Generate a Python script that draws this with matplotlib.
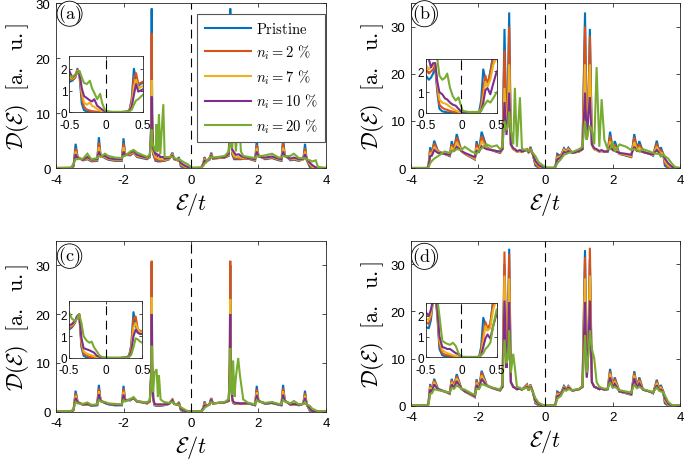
import numpy as np
import matplotlib
matplotlib.use("Agg")
import matplotlib.pyplot as plt

plt.rcParams['font.family'] = ['Liberation Sans', 'DejaVu Sans']
plt.rcParams['mathtext.fontset'] = 'cm'
plt.rcParams['axes.unicode_minus'] = False

COLORS = ['#0072BD', '#D95319', '#EDB120', '#7E2F8E', '#77AC30']
LABELS = [r'$\mathrm{Pristine}$', r'$n_i = 2\ \%$', r'$n_i = 7\ \%$',
          r'$n_i = 10\ \%$', r'$n_i = 20\ \%$']

# ---------------- panel (a) ----------------
E_A = [-4.0, -3.55, -3.48, -3.42, -3.36, -3.2, -3.07, -2.95, -2.78, -2.73,
       -2.68, -2.55, -2.45, -2.25, -2.05, -2.0, -1.95, -1.8, -1.7, -1.6,
       -1.45, -1.3, -1.22, -1.18, -1.165, -1.15, -1.12, -1.05, -1.02, -0.99,
       -0.95, -0.91, -0.82, -0.78, -0.65, -0.55, -0.5, -0.4, -0.36, -0.3,
       -0.2, -0.1, -0.03, 0.0, 0.3, 0.37, 0.40, 0.45, 0.55, 0.6,
       0.65, 0.8, 1.0, 1.12, 1.15, 1.165, 1.18, 1.22, 1.28, 1.33,
       1.42, 1.48, 1.55, 1.7, 1.9, 1.95, 2.0, 2.2, 2.4, 2.6,
       2.68, 2.73, 2.78, 2.95, 3.05, 3.2, 3.33, 3.38, 3.43, 3.52,
       3.6, 3.7, 3.76, 4.0]
A_PRISTINE = [0, 0, 0.3, 4.4, 2.0, 1.4, 1.6, 1.2, 1.3, 5.6,
              2.3, 1.8, 1.5, 1.3, 1.3, 5.4, 2.4, 2.3, 2.8, 2.0,
              1.8, 1.6, 2.0, 8.0, 29.0, 10.0, 2.5, 1.3, 1.3, 1.2,
              1.2, 1.2, 1.3, 1.3, 1.6, 2.8, 1.6, 1.4, 2.0, 0.3,
              0.05, 0, 0, 0, 0, 0.8, 2.0, 1.2, 1.5, 2.8,
              1.7, 1.8, 1.9, 2.2, 10.0, 29.0, 8.0, 2.5, 1.6, 1.6,
              1.6, 1.6, 1.7, 1.7, 1.3, 5.0, 2.2, 1.6, 1.8, 1.4,
              1.3, 5.4, 2.3, 1.4, 1.5, 1.3, 1.6, 4.4, 1.5, 0.2,
              0, 0, 0, 0]
A_N2 = [0, 0, 0.4, 3.6, 2.0, 1.4, 1.7, 1.3, 1.4, 4.6,
        2.3, 1.9, 1.6, 1.4, 1.4, 4.5, 2.4, 2.4, 2.9, 2.1,
        1.9, 1.7, 2.1, 7.0, 24.5, 9.0, 2.8, 1.5, 1.6, 1.4,
        1.4, 1.3, 1.4, 1.4, 1.6, 2.6, 1.6, 1.4, 1.8, 0.5,
        0.15, 0.05, 0, 0, 0, 0.9, 1.8, 1.2, 1.6, 2.6,
        1.7, 1.8, 1.9, 2.3, 9.0, 24.5, 7.0, 2.8, 1.8, 1.8,
        1.7, 1.7, 1.7, 1.7, 1.4, 4.2, 2.2, 1.7, 1.9, 1.5,
        1.4, 4.5, 2.3, 1.5, 1.6, 1.4, 1.6, 3.6, 1.5, 0.5,
        0.05, 0, 0, 0]
A_N7 = [0, 0, 0.5, 3.0, 1.9, 1.5, 1.8, 1.4, 1.5, 3.8,
        2.3, 2.0, 1.7, 1.5, 1.5, 3.8, 2.4, 2.6, 3.0, 2.2,
        2.0, 1.8, 2.2, 6.0, 16.0, 8.0, 3.0, 2.0, 2.0, 1.8,
        1.8, 1.6, 1.6, 1.5, 1.7, 2.4, 1.7, 1.5, 1.6, 0.7,
        0.3, 0.1, 0.02, 0, 0, 0.8, 1.5, 1.2, 1.7, 2.4,
        1.8, 1.8, 2.0, 2.4, 8.0, 16.0, 6.0, 3.0, 2.2, 2.0,
        2.0, 1.9, 1.8, 1.8, 1.5, 3.6, 2.2, 1.8, 2.0, 1.6,
        1.5, 3.7, 2.3, 1.6, 1.7, 1.5, 1.6, 3.0, 1.6, 0.8,
        0.2, 0.02, 0, 0]
A_N10 = [0, 0, 0.6, 2.5, 1.8, 1.5, 2.0, 1.5, 1.6, 3.0,
         2.2, 2.2, 1.8, 1.6, 1.6, 3.0, 2.3, 2.8, 3.1, 2.4,
         2.1, 1.9, 2.3, 5.5, 13.0, 7.5, 3.5, 2.5, 2.6, 2.2,
         2.4, 2.0, 2.0, 1.7, 1.8, 2.2, 1.7, 1.6, 1.5, 0.9,
         0.5, 0.2, 0.05, 0, 0.03, 0.7, 1.3, 1.1, 1.8, 2.2,
         1.8, 1.9, 2.0, 2.6, 7.0, 13.0, 5.5, 3.4, 2.8, 2.4,
         2.5, 2.2, 2.0, 1.8, 1.6, 3.0, 2.1, 1.9, 2.1, 1.7,
         1.6, 3.0, 2.2, 1.7, 1.9, 1.6, 1.7, 2.5, 1.6, 1.0,
         0.5, 0.1, 0.02, 0]
A_N20 = [0, 0.1, 0.8, 1.6, 1.6, 1.7, 2.6, 1.6, 1.8, 2.2,
         2.0, 2.6, 2.2, 1.9, 1.8, 2.2, 2.2, 3.0, 3.3, 2.8,
         2.4, 2.0, 2.4, 5.0, 7.0, 5.0, 4.0, 3.0, 8.0, 3.0,
         9.8, 2.5, 11.6, 2.0, 2.0, 2.0, 1.8, 1.6, 1.5, 1.4,
         1.0, 0.7, 0.3, 0.05, 0.1, 0.4, 0.8, 1.0, 1.9, 2.0,
         1.9, 2.0, 2.2, 3.0, 5.0, 7.0, 5.0, 3.6, 9.0, 3.0,
         10.0, 3.0, 2.2, 2.0, 1.8, 2.2, 2.1, 2.3, 2.6, 1.9,
         1.9, 2.2, 2.1, 2.2, 2.6, 1.8, 1.8, 1.8, 1.6, 1.4,
         1.2, 1.4, 0.2, 0]

# ---------------- panel (b) ----------------
E_B = [-4.0, -3.52, -3.48, -3.43, -3.38, -3.31, -3.2, -3.0, -2.85, -2.79,
       -2.72, -2.64, -2.5, -2.4, -2.2, -2.1, -2.05, -1.98, -1.9, -1.75,
       -1.6, -1.45, -1.35, -1.28, -1.22, -1.16, -1.12, -1.08, -1.03, -0.96,
       -0.91, -0.85, -0.76, -0.7, -0.55, -0.5, -0.45, -0.38, -0.3, -0.2,
       -0.05, 0.0, 0.25, 0.3, 0.35, 0.45, 0.55, 0.62, 0.68, 0.8,
       1.0, 1.1, 1.175, 1.23, 1.28, 1.32, 1.38, 1.45, 1.52, 1.6,
       1.67, 1.75, 1.85, 1.92, 2.0, 2.06, 2.2, 2.4, 2.55, 2.64,
       2.72, 2.79, 2.9, 3.1, 3.2, 3.31, 3.38, 3.43, 3.5, 3.55,
       3.65, 3.75, 3.85, 4.0]
B_PRISTINE = [0, 0, 0.5, 4.4, 3.0, 5.8, 3.6, 3.0, 2.5, 5.7,
              4.0, 7.2, 3.6, 3.0, 2.2, 1.8, 5.7, 3.5, 7.7, 4.4,
              3.8, 3.4, 3.2, 4.0, 29.5, 8.0, 15.0, 33.0, 5.0, 4.0,
              3.8, 3.5, 3.6, 3.4, 4.0, 3.2, 4.5, 3.0, 0.5, 0.05,
              0, 0, 0, 0.5, 3.0, 2.5, 4.2, 3.5, 4.3, 3.2,
              3.5, 4.0, 33.0, 6.0, 15.0, 29.5, 5.0, 4.0, 3.8, 3.5,
              3.6, 3.4, 3.5, 7.7, 4.0, 5.7, 3.0, 2.6, 2.3, 7.2,
              4.0, 5.7, 3.4, 3.0, 2.6, 5.8, 3.5, 4.4, 3.0, 0.5,
              0, 0, 0, 0]
B_N2 = [0, 0, 0.4, 3.8, 3.0, 5.2, 3.5, 3.0, 2.6, 5.0,
        3.9, 6.5, 3.6, 3.0, 2.3, 1.9, 5.0, 3.5, 6.8, 4.3,
        3.8, 3.5, 3.3, 4.0, 25.0, 8.0, 14.0, 30.0, 5.0, 4.0,
        3.8, 3.5, 3.6, 3.4, 4.0, 3.3, 4.3, 3.0, 0.8, 0.15,
        0.02, 0, 0, 0.4, 2.6, 2.5, 4.0, 3.5, 4.1, 3.2,
        3.5, 4.0, 30.0, 6.0, 15.0, 28.0, 5.0, 4.0, 3.8, 3.5,
        3.6, 3.4, 3.5, 6.8, 4.0, 5.0, 3.0, 2.7, 2.4, 6.5,
        3.9, 5.0, 3.4, 3.0, 2.7, 5.2, 3.5, 3.8, 3.0, 1.0,
        0.2, 0, 0, 0]
B_N7 = [0, 0, 0.3, 3.2, 2.9, 4.5, 3.4, 3.0, 2.7, 4.3,
        3.8, 5.5, 3.6, 3.1, 2.4, 2.0, 4.3, 3.5, 5.7, 4.2,
        3.8, 3.6, 3.4, 4.0, 17.0, 8.0, 12.0, 22.0, 5.0, 4.0,
        3.8, 3.5, 3.6, 3.4, 3.9, 3.3, 4.0, 3.0, 1.2, 0.4,
        0.05, 0.02, 0, 0.3, 2.2, 2.4, 3.8, 3.4, 3.9, 3.2,
        3.5, 4.0, 22.0, 6.0, 14.0, 22.0, 5.0, 4.0, 3.8, 3.5,
        3.6, 3.5, 3.5, 5.7, 3.9, 4.3, 3.1, 2.8, 2.5, 5.5,
        3.8, 4.3, 3.4, 3.0, 2.8, 4.5, 3.4, 3.2, 3.0, 1.5,
        0.5, 0.1, 0, 0]
B_N10 = [0, 0, 0.3, 2.5, 2.6, 3.8, 3.2, 3.0, 2.8, 3.6,
         3.6, 4.5, 3.6, 3.2, 2.6, 2.3, 3.6, 3.4, 4.6, 4.0,
         3.8, 3.6, 3.5, 4.0, 14.0, 7.0, 10.0, 16.0, 5.0, 4.2,
         4.0, 3.6, 3.8, 3.5, 3.8, 3.4, 3.8, 3.0, 1.5, 0.6,
         0.1, 0.05, 0.02, 0.3, 1.8, 2.2, 3.4, 3.2, 3.6, 3.2,
         3.6, 4.0, 16.0, 6.0, 12.0, 15.0, 5.0, 4.2, 4.0, 3.6,
         3.8, 3.5, 3.5, 4.6, 3.8, 3.6, 3.2, 3.0, 2.8, 4.5,
         3.6, 3.6, 3.4, 3.0, 2.9, 3.8, 3.2, 2.5, 2.8, 2.0,
         1.0, 0.3, 0.02, 0]
B_N20 = [0, 0, 0.1, 1.0, 1.5, 2.0, 2.5, 3.5, 3.2, 3.5,
         3.6, 4.0, 3.8, 4.5, 3.5, 3.2, 3.0, 3.6, 4.2, 5.0,
         4.5, 4.8, 4.0, 4.5, 10.0, 8.0, 9.0, 12.0, 8.0, 5.0,
         17.0, 4.5, 15.0, 4.0, 3.8, 3.6, 3.8, 3.2, 2.5, 1.2,
         0.4, 0.1, 0.05, 0.3, 1.0, 1.8, 2.8, 3.0, 3.2, 3.4,
         4.0, 4.5, 10.0, 6.0, 8.0, 9.0, 8.0, 5.0, 21.4, 4.5,
         14.6, 6.0, 4.0, 4.0, 5.5, 3.5, 5.0, 4.5, 3.8, 4.0,
         3.8, 3.5, 4.0, 3.5, 3.2, 3.0, 3.0, 2.5, 2.8, 2.5,
         2.0, 1.0, 0.2, 0]

# ---------------- panel (c) ----------------
E_C = [-4.0, -3.55, -3.48, -3.42, -3.36, -3.2, -3.07, -2.95, -2.78, -2.73,
       -2.68, -2.55, -2.45, -2.25, -2.05, -2.0, -1.95, -1.8, -1.7, -1.6,
       -1.45, -1.3, -1.22, -1.18, -1.165, -1.15, -1.12, -1.08, -1.02, -0.98,
       -0.95, -0.9, -0.8, -0.65, -0.55, -0.5, -0.4, -0.36, -0.3, -0.2,
       -0.1, -0.03, 0.0, 0.3, 0.37, 0.40, 0.45, 0.55, 0.6, 0.65,
       0.8, 1.0, 1.12, 1.15, 1.165, 1.18, 1.22, 1.25, 1.29, 1.33,
       1.40, 1.45, 1.55, 1.7, 1.9, 1.95, 2.0, 2.2, 2.4, 2.6,
       2.68, 2.73, 2.78, 2.95, 3.05, 3.2, 3.33, 3.38, 3.43, 3.52,
       3.6, 3.7, 3.76, 4.0]
C_PRISTINE = [0, 0, 0.3, 4.3, 2.0, 1.4, 1.5, 1.2, 1.3, 5.5,
              2.3, 1.8, 1.5, 1.3, 1.3, 5.3, 2.4, 2.3, 2.8, 2.1,
              1.9, 1.7, 2.1, 8.0, 30.5, 10.0, 2.5, 1.3, 1.2, 1.2,
              1.2, 1.2, 1.3, 1.6, 2.6, 1.6, 1.4, 2.0, 0.3, 0.05,
              0, 0, 0, 0, 0.8, 2.1, 1.2, 1.5, 2.8, 1.7,
              1.8, 1.9, 2.2, 10.0, 30.0, 8.0, 2.5, 1.8, 1.6, 1.6,
              1.6, 1.6, 1.7, 1.7, 1.3, 5.3, 2.2, 1.6, 1.8, 1.4,
              1.3, 5.5, 2.3, 1.4, 1.5, 1.3, 1.6, 4.3, 1.5, 0.2,
              0, 0, 0, 0]
C_N2 = [0, 0, 0.4, 3.8, 2.0, 1.4, 1.5, 1.3, 1.4, 4.8,
        2.3, 1.8, 1.6, 1.4, 1.4, 4.7, 2.4, 2.4, 2.8, 2.1,
        1.9, 1.7, 2.1, 8.0, 30.9, 10.0, 2.6, 1.4, 1.3, 1.3,
        1.3, 1.3, 1.4, 1.6, 2.5, 1.6, 1.4, 1.9, 0.4, 0.1,
        0.02, 0, 0, 0, 0.9, 1.9, 1.2, 1.5, 2.7, 1.7,
        1.8, 1.9, 2.2, 10.0, 30.9, 8.0, 2.6, 1.9, 1.7, 1.6,
        1.6, 1.6, 1.7, 1.7, 1.4, 4.6, 2.2, 1.7, 1.8, 1.5,
        1.4, 4.8, 2.3, 1.5, 1.5, 1.4, 1.6, 3.8, 1.5, 0.4,
        0.02, 0, 0, 0]
C_N7 = [0, 0, 0.4, 3.3, 1.9, 1.5, 1.5, 1.3, 1.4, 4.2,
        2.3, 1.8, 1.6, 1.4, 1.4, 4.1, 2.4, 2.4, 2.8, 2.1,
        2.0, 1.8, 2.1, 7.5, 23.4, 9.0, 2.7, 1.5, 1.4, 1.4,
        1.4, 1.4, 1.4, 1.6, 2.4, 1.6, 1.5, 1.8, 0.5, 0.15,
        0.03, 0, 0, 0, 0.8, 1.6, 1.2, 1.5, 2.6, 1.7,
        1.8, 1.9, 2.3, 9.0, 23.0, 7.5, 2.7, 2.0, 1.8, 1.7,
        1.7, 1.7, 1.7, 1.7, 1.4, 4.0, 2.2, 1.7, 1.8, 1.5,
        1.4, 4.2, 2.3, 1.5, 1.5, 1.4, 1.6, 3.3, 1.5, 0.5,
        0.05, 0, 0, 0]
C_N10 = [0, 0, 0.5, 2.8, 1.9, 1.5, 1.6, 1.3, 1.4, 3.6,
         2.2, 1.8, 1.6, 1.4, 1.4, 3.5, 2.3, 2.5, 2.8, 2.1,
         2.0, 1.8, 2.2, 7.0, 20.0, 8.5, 2.8, 1.6, 1.5, 1.5,
         1.5, 1.5, 1.5, 1.6, 2.3, 1.6, 1.5, 1.7, 0.6, 0.2,
         0.05, 0, 0, 0.02, 0.7, 1.3, 1.2, 1.5, 2.5, 1.7,
         1.8, 1.9, 2.3, 8.5, 20.0, 7.0, 2.8, 2.1, 1.9, 1.8,
         1.8, 1.7, 1.7, 1.7, 1.4, 3.4, 2.2, 1.7, 1.8, 1.5,
         1.4, 3.5, 2.2, 1.5, 1.6, 1.4, 1.6, 2.8, 1.5, 0.7,
         0.1, 0.02, 0, 0]
C_N20 = [0, 0.1, 0.6, 2.0, 1.7, 1.6, 1.9, 1.4, 1.5, 2.4,
         2.1, 2.0, 1.7, 1.6, 1.5, 2.4, 2.1, 2.6, 3.0, 2.2,
         2.0, 1.9, 2.4, 6.0, 13.5, 7.0, 4.0, 8.0, 8.7, 3.0,
         7.5, 2.5, 2.0, 1.8, 2.0, 1.6, 1.5, 1.5, 0.9, 0.5,
         0.15, 0.03, 0, 0.05, 0.4, 0.8, 1.0, 1.5, 2.0, 1.7,
         1.8, 2.0, 2.6, 7.0, 13.0, 6.0, 3.5, 10.5, 3.0, 7.0,
         11.0, 7.5, 2.5, 1.8, 1.5, 2.4, 2.1, 1.8, 2.0, 1.6,
         1.6, 2.4, 2.1, 1.7, 2.2, 1.5, 1.6, 2.0, 1.5, 1.2,
         0.6, 0.3, 0.05, 0]

# ---------------- panel (d) ----------------
E_D = [-4.0, -3.52, -3.48, -3.43, -3.38, -3.31, -3.2, -3.0, -2.85, -2.79,
       -2.72, -2.64, -2.5, -2.4, -2.2, -2.1, -2.05, -1.98, -1.9, -1.75,
       -1.6, -1.45, -1.35, -1.28, -1.22, -1.16, -1.12, -1.08, -1.03, -0.96,
       -0.91, -0.85, -0.76, -0.7, -0.55, -0.5, -0.45, -0.38, -0.3, -0.2,
       -0.05, 0.0, 0.25, 0.3, 0.35, 0.45, 0.55, 0.62, 0.68, 0.8,
       1.0, 1.1, 1.175, 1.23, 1.28, 1.32, 1.38, 1.45, 1.52, 1.6,
       1.67, 1.75, 1.85, 1.92, 2.0, 2.06, 2.2, 2.4, 2.55, 2.64,
       2.72, 2.79, 2.9, 3.1, 3.2, 3.31, 3.38, 3.43, 3.5, 3.55,
       3.65, 3.75, 3.85, 4.0]
D_PRISTINE = [0, 0, 0.5, 4.6, 3.0, 5.7, 3.6, 3.0, 2.5, 5.7,
              4.0, 6.7, 3.6, 3.0, 2.2, 1.8, 5.6, 3.5, 7.4, 4.4,
              3.8, 3.4, 3.2, 4.0, 30.0, 8.0, 15.0, 33.3, 5.0, 4.0,
              3.8, 3.5, 3.6, 3.4, 4.5, 3.2, 4.5, 3.0, 0.5, 0.05,
              0, 0, 0, 0.5, 3.0, 2.5, 4.2, 3.5, 4.2, 3.2,
              3.5, 4.0, 33.0, 6.0, 15.0, 31.0, 5.0, 4.0, 3.8, 3.5,
              3.6, 3.4, 3.5, 7.8, 4.0, 6.0, 3.0, 2.6, 2.3, 7.3,
              4.0, 6.0, 3.4, 3.0, 2.6, 5.5, 3.5, 4.4, 3.0, 0.5,
              0, 0, 0, 0]
D_N2 = [0, 0, 0.5, 4.3, 3.0, 5.4, 3.5, 3.0, 2.6, 5.4,
        3.9, 6.3, 3.6, 3.0, 2.3, 1.9, 5.3, 3.5, 7.0, 4.3,
        3.8, 3.5, 3.3, 4.0, 32.7, 8.0, 14.0, 32.2, 5.0, 4.0,
        3.8, 3.5, 3.6, 3.4, 4.4, 3.3, 4.4, 3.0, 0.7, 0.1,
        0.02, 0, 0, 0.4, 2.7, 2.5, 4.0, 3.5, 4.1, 3.2,
        3.5, 4.0, 31.5, 6.0, 15.0, 33.5, 5.0, 4.0, 3.8, 3.5,
        3.6, 3.4, 3.5, 7.3, 4.0, 5.7, 3.0, 2.7, 2.4, 6.9,
        3.9, 5.7, 3.4, 3.0, 2.7, 5.2, 3.5, 4.1, 3.0, 0.9,
        0.1, 0, 0, 0]
D_N7 = [0, 0, 0.4, 3.9, 3.0, 5.0, 3.5, 3.0, 2.6, 5.0,
        3.9, 5.8, 3.6, 3.1, 2.3, 1.9, 4.9, 3.5, 6.4, 4.3,
        3.8, 3.5, 3.4, 4.0, 27.6, 8.0, 13.0, 27.0, 5.0, 4.0,
        3.8, 3.5, 3.6, 3.4, 4.2, 3.3, 4.3, 3.0, 0.9, 0.2,
        0.03, 0, 0, 0.3, 2.4, 2.4, 3.9, 3.4, 4.0, 3.2,
        3.5, 4.0, 27.0, 6.0, 14.0, 27.6, 5.0, 4.0, 3.8, 3.5,
        3.6, 3.4, 3.5, 6.8, 3.9, 5.2, 3.0, 2.7, 2.4, 6.4,
        3.9, 5.2, 3.4, 3.0, 2.7, 4.8, 3.4, 3.8, 3.0, 1.2,
        0.2, 0.02, 0, 0]
D_N10 = [0, 0, 0.4, 3.4, 2.9, 4.5, 3.5, 3.0, 2.7, 4.5,
         3.8, 5.2, 3.6, 3.1, 2.4, 2.0, 4.4, 3.5, 5.7, 4.2,
         3.8, 3.5, 3.4, 4.0, 22.3, 8.0, 12.0, 22.0, 5.0, 4.0,
         3.8, 3.5, 3.6, 3.4, 4.0, 3.3, 4.1, 3.0, 1.1, 0.3,
         0.05, 0.01, 0, 0.3, 2.0, 2.3, 3.7, 3.3, 3.8, 3.2,
         3.5, 4.0, 22.0, 6.0, 13.0, 22.3, 5.0, 4.0, 3.8, 3.5,
         3.6, 3.4, 3.5, 6.0, 3.8, 4.6, 3.0, 2.8, 2.5, 5.8,
         3.8, 4.7, 3.4, 3.0, 2.8, 4.3, 3.3, 3.4, 3.0, 1.6,
         0.4, 0.05, 0, 0]
D_N20 = [0, 0, 0.2, 2.5, 2.6, 3.5, 3.3, 3.0, 2.8, 3.8,
         3.6, 4.3, 3.6, 3.4, 2.6, 2.3, 3.6, 3.5, 4.6, 4.2,
         3.9, 3.6, 3.5, 4.5, 14.0, 9.0, 10.0, 16.0, 7.0, 11.0,
         8.0, 4.0, 3.8, 3.5, 3.8, 3.4, 3.8, 3.0, 1.6, 0.6,
         0.1, 0.03, 0.01, 0.2, 1.5, 2.0, 3.3, 3.2, 3.5, 3.3,
         3.6, 4.2, 15.0, 7.0, 11.0, 16.0, 12.0, 10.0, 5.0, 4.0,
         3.8, 3.6, 3.6, 5.0, 3.8, 4.0, 3.3, 3.0, 2.8, 4.5,
         3.7, 4.0, 3.5, 3.1, 2.9, 3.8, 3.2, 3.0, 2.9, 2.2,
         0.8, 0.2, 0.02, 0]

# ---------------- insets (zoom around E = 0) ----------------
EI_A = [-0.5, -0.46, -0.42, -0.39, -0.36, -0.33, -0.3, -0.26, -0.22, -0.19,
        -0.16, -0.12, -0.08, -0.05, -0.02, 0.0, 0.1, 0.2, 0.28, 0.32,
        0.35, 0.38, 0.41, 0.44, 0.47, 0.5]
IA_PRISTINE = [1.4, 1.45, 1.6, 2.0, 1.6, 0.4, 0.1, 0.03, 0.02, 0.01, 0.01, 0.01, 0, 0, 0,
               0, 0, 0, 0.01, 0.1, 0.6, 2.0, 1.5, 1.2, 1.3, 1.35]
IA_N2 = [1.5, 1.5, 1.6, 1.95, 1.7, 0.7, 0.25, 0.12, 0.08, 0.05, 0.04, 0.02, 0.01, 0.01, 0,
         0, 0, 0, 0.02, 0.1, 0.5, 1.6, 1.8, 1.3, 1.35, 1.4]
IA_N7 = [1.6, 1.55, 1.65, 1.9, 1.75, 0.9, 0.45, 0.35, 0.45, 0.3, 0.25, 0.15, 0.08, 0.04, 0.02,
         0.01, 0, 0, 0.02, 0.08, 0.35, 1.2, 1.5, 1.1, 1.15, 1.2]
IA_N10 = [1.9, 1.6, 1.7, 1.85, 1.75, 1.1, 0.75, 0.65, 0.55, 0.5, 0.6, 0.3, 0.2, 0.12, 0.05,
          0.02, 0.01, 0.01, 0.03, 0.07, 0.25, 0.8, 1.3, 0.95, 1.0, 1.05]
IA_N20 = [1.7, 1.6, 1.75, 1.8, 1.9, 1.6, 1.35, 1.3, 1.45, 1.1, 0.9, 0.6, 0.85, 0.4, 0.15,
          0.05, 0.02, 0.02, 0.03, 0.05, 0.12, 0.35, 0.55, 0.6, 0.7, 0.8]

EI_B = [-0.5, -0.46, -0.43, -0.4, -0.37, -0.34, -0.31, -0.27, -0.23, -0.2,
        -0.16, -0.12, -0.08, -0.04, -0.01, 0.02, 0.1, 0.2, 0.25, 0.28,
        0.31, 0.34, 0.37, 0.41, 0.45, 0.5]
IB_PRISTINE = [1.8, 1.6, 1.7, 1.9, 2.2, 1.0, 0.2, 0.08, 0.05, 0.03, 0.02, 0.01, 0.01, 0, 0,
               0, 0, 0, 0.02, 0.6, 2.1, 1.6, 1.3, 2.0, 2.8, 3.0]
IB_N2 = [2.1, 1.9, 2.0, 2.1, 2.3, 1.2, 0.4, 0.25, 0.18, 0.15, 0.1, 0.06, 0.04, 0.02, 0.01,
         0, 0, 0, 0.02, 0.3, 1.2, 1.8, 1.4, 1.9, 2.7, 3.0]
IB_N7 = [2.3, 2.1, 2.2, 2.3, 2.4, 1.4, 0.65, 0.5, 0.45, 0.4, 0.3, 0.2, 0.12, 0.06, 0.03,
         0.01, 0, 0, 0.02, 0.2, 0.8, 1.5, 1.3, 1.6, 2.3, 2.7]
IB_N10 = [2.8, 2.6, 2.2, 2.4, 2.4, 1.5, 1.0, 0.9, 0.7, 0.65, 0.5, 0.4, 0.35, 0.2, 0.1,
          0.03, 0.01, 0.01, 0.02, 0.1, 0.5, 1.1, 1.2, 0.9, 1.4, 2.0]
IB_N20 = [3.0, 3.0, 3.0, 3.0, 3.0, 2.6, 1.8, 1.6, 1.7, 1.9, 1.2, 0.8, 0.6, 0.75, 0.4,
          0.1, 0.05, 0.05, 0.05, 0.1, 0.3, 0.45, 0.6, 0.5, 0.7, 1.0]

EI_C = [-0.5, -0.46, -0.42, -0.39, -0.36, -0.33, -0.3, -0.26, -0.22, -0.19,
        -0.16, -0.12, -0.08, -0.05, -0.02, 0.0, 0.1, 0.2, 0.28, 0.32,
        0.35, 0.38, 0.41, 0.44, 0.47, 0.5]
IC_PRISTINE = [1.3, 1.4, 1.6, 1.9, 2.0, 0.5, 0.1, 0.03, 0.02, 0.01, 0.01, 0, 0, 0, 0,
               0, 0, 0, 0.01, 0.1, 0.6, 2.1, 1.5, 1.2, 1.2, 1.2]
IC_N2 = [1.35, 1.45, 1.6, 1.9, 2.0, 0.6, 0.2, 0.1, 0.06, 0.04, 0.03, 0.02, 0.01, 0, 0,
         0, 0, 0, 0.02, 0.1, 0.5, 1.8, 1.9, 1.3, 1.25, 1.2]
IC_N7 = [1.45, 1.5, 1.65, 1.9, 2.0, 0.75, 0.3, 0.2, 0.15, 0.12, 0.08, 0.04, 0.02, 0.01, 0,
         0, 0, 0, 0.02, 0.08, 0.4, 1.4, 1.6, 1.3, 1.2, 1.15]
IC_N10 = [1.5, 1.55, 1.7, 1.9, 2.0, 0.9, 0.45, 0.4, 0.35, 0.3, 0.25, 0.1, 0.05, 0.02, 0.01,
          0.01, 0, 0, 0.03, 0.07, 0.3, 1.0, 1.3, 1.15, 1.1, 1.1]
IC_N20 = [2.1, 1.8, 1.7, 1.8, 2.0, 1.6, 1.0, 0.8, 0.7, 0.75, 0.5, 0.3, 0.1, 0.05, 0.02,
          0.01, 0.01, 0.01, 0.02, 0.05, 0.15, 0.5, 0.9, 0.85, 0.75, 0.7]

EI_D = [-0.5, -0.46, -0.43, -0.4, -0.37, -0.34, -0.31, -0.27, -0.23, -0.2,
        -0.16, -0.12, -0.08, -0.04, -0.01, 0.02, 0.1, 0.2, 0.25, 0.28,
        0.31, 0.34, 0.37, 0.41, 0.45, 0.5]
ID_PRISTINE = [1.45, 1.4, 1.8, 2.8, 3.0, 2.0, 0.4, 0.1, 0.05, 0.03, 0.02, 0.01, 0.01, 0, 0,
               0, 0, 0, 0.02, 0.5, 1.9, 1.6, 1.3, 1.6, 2.8, 3.0]
ID_N2 = [1.7, 1.6, 2.0, 2.8, 3.0, 2.2, 0.6, 0.2, 0.12, 0.1, 0.08, 0.05, 0.03, 0.02, 0.01,
         0, 0, 0, 0.02, 0.3, 1.2, 1.7, 1.4, 1.6, 2.6, 3.0]
ID_N7 = [1.85, 1.8, 2.1, 2.8, 3.0, 2.3, 0.8, 0.35, 0.25, 0.2, 0.15, 0.1, 0.06, 0.03, 0.01,
         0, 0, 0, 0.02, 0.2, 0.8, 1.5, 1.3, 1.4, 2.3, 2.8]
ID_N10 = [2.15, 2.0, 2.3, 2.8, 3.0, 2.4, 1.0, 0.5, 0.45, 0.4, 0.4, 0.3, 0.2, 0.15, 0.05,
          0.02, 0.01, 0.01, 0.02, 0.1, 0.5, 0.9, 1.1, 0.9, 1.5, 2.1]
ID_N20 = [3.0, 3.0, 3.0, 3.0, 3.0, 2.8, 2.0, 0.8, 0.7, 0.65, 0.6, 0.7, 0.55, 0.2, 0.05,
          0.02, 0.02, 0.02, 0.03, 0.1, 0.2, 0.4, 0.5, 0.7, 1.5, 2.3]

PANELS = [
    ('a', E_A, [A_PRISTINE, A_N2, A_N7, A_N10, A_N20], 30,
     EI_A, [IA_PRISTINE, IA_N2, IA_N7, IA_N10, IA_N20]),
    ('b', E_B, [B_PRISTINE, B_N2, B_N7, B_N10, B_N20], 35,
     EI_B, [IB_PRISTINE, IB_N2, IB_N7, IB_N10, IB_N20]),
    ('c', E_C, [C_PRISTINE, C_N2, C_N7, C_N10, C_N20], 35,
     EI_C, [IC_PRISTINE, IC_N2, IC_N7, IC_N10, IC_N20]),
    ('d', E_D, [D_PRISTINE, D_N2, D_N7, D_N10, D_N20], 35,
     EI_D, [ID_PRISTINE, ID_N2, ID_N7, ID_N10, ID_N20]),
]

# axes rectangles in figure fractions [left, bottom, width, height]
MAIN_POS = [[0.0818, 0.6326, 0.394, 0.3587],
            [0.600, 0.6326, 0.3927, 0.3587],
            [0.0818, 0.1028, 0.394, 0.3717],
            [0.600, 0.1159, 0.3927, 0.3587]]
INSET_POS = [[0.1012, 0.7537, 0.1071, 0.1230],
             [0.6219, 0.7522, 0.1032, 0.1174],
             [0.1007, 0.2196, 0.1070, 0.1233],
             [0.6219, 0.2211, 0.1032, 0.1174]]
TAG_Y = [0.935, 0.935, 0.91, 0.905]

EDGE = '#262626'


def style_axes(ax, size):
    ax.tick_params(direction='in', top=True, right=True, length=3, width=0.5,
                   labelsize=size, colors='black', pad=4)
    for s in ax.spines.values():
        s.set_linewidth(0.6)
        s.set_color(EDGE)


fig = plt.figure(figsize=(6.85, 4.6), dpi=100)

for k, (tag, e, series, ymax, ei, iseries) in enumerate(PANELS):
    ax = fig.add_axes(MAIN_POS[k])
    lines = []
    for y, c in zip(series, COLORS):
        ln, = ax.plot(e, y, color=c, lw=1.5, solid_joinstyle='miter')
        lines.append(ln)
    ax.axvline(0, color='black', lw=0.8, ls=(0, (8, 5)))
    ax.set_xlim(-4, 4)
    ax.set_ylim(0, ymax)
    ax.set_xticks([-4, -2, 0, 2, 4])
    ax.set_yticks([0, 10, 20, 30])
    style_axes(ax, 9.5)
    ax.set_xlabel(r'$\mathcal{E}/t$', fontsize=16, labelpad=3)
    ax.set_ylabel(r'$\mathcal{D}(\mathcal{E})\ \ [\mathrm{a.\ \ u.}]$', fontsize=16, labelpad=3)
    ax.text(0.05, TAG_Y[k], r'$\mathrm{(%s)}$' % tag, transform=ax.transAxes,
            fontsize=13, ha='center', va='center',
            bbox=dict(boxstyle='circle,pad=0.05', fc='white', ec='black', lw=0.6))

    if tag == 'a':
        leg = ax.legend(lines, LABELS, loc='upper right', bbox_to_anchor=(0.996, 0.933),
                        borderaxespad=0, fontsize=10.5, handlelength=3.2, handletextpad=0.3,
                        labelspacing=0.42, borderpad=0.5, fancybox=False, framealpha=1)
        leg.get_frame().set_edgecolor('#555555')
        leg.get_frame().set_linewidth(0.8)

    ins = fig.add_axes(INSET_POS[k])
    for y, c in zip(iseries, COLORS):
        ins.plot(ei, y, color=c, lw=1.5)
    ins.axvline(0, color='black', lw=0.8, ls=(0, (8, 5)))
    ins.set_xlim(-0.5, 0.5)
    ins.set_ylim(0, 2.6)
    ins.set_xticks([-0.5, 0, 0.5])
    ins.set_xticklabels(['-0.5', '0', '0.5'])
    ins.set_yticks([0, 1, 2])
    style_axes(ins, 8.5)
    ins.tick_params(axis='x', length=2, pad=4.5)
    ins.tick_params(axis='y', length=2, pad=1.5)

fig.savefig('out.png', dpi=100)
